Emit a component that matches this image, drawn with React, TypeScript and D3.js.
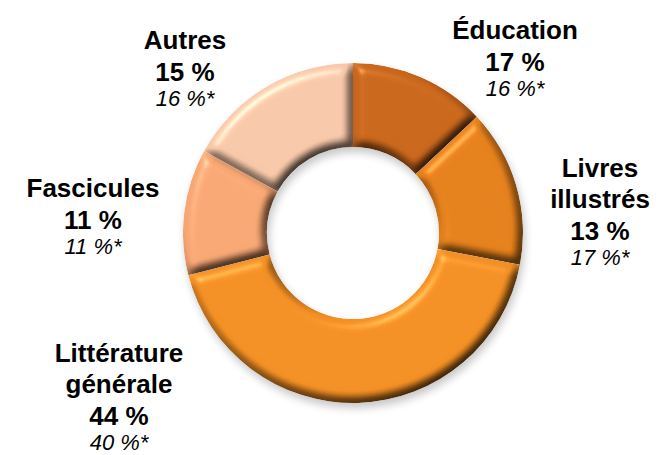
import React from "react";
import * as d3 from "d3";

const categories = ["Éducation", "Livres illustrés", "Littérature générale", "Fascicules", "Autres"];
const shares = [13, 15, 43, 12, 17];
const mainLabels = ["17 %", "13 %", "44 %", "11 %", "15 %"];
const refLabels = ["16 %*", "17 %*", "40 %*", "11 %*", "16 %*"];
const colors = ["#c8661c", "#e3801c", "#f28f24", "#f6a673", "#f6c6a8"];

const W = 660, H = 455;
const cx = 353, cy = 233, rOut = 170, rIn = 86;

type LabelSpec = { x: number; y: number; lines: string[] };
const labelPos: LabelSpec[] = [
  { x: 515, y: 39, lines: ["Éducation"] },
  { x: 600, y: 177, lines: ["Livres", "illustrés"] },
  { x: 119, y: 362, lines: ["Littérature", "générale"] },
  { x: 93, y: 197, lines: ["Fascicules"] },
  { x: 185, y: 49, lines: ["Autres"] },
];

export default function App() {
  const pie = d3.pie<number>().sort(null).value((d) => d).startAngle(0).endAngle(2 * Math.PI);
  const arcs = pie(shares);
  const arc = d3.arc<d3.PieArcDatum<number>>().innerRadius(rIn).outerRadius(rOut);
  return (
    <svg width={W} height={H} style={{ position: "absolute", left: 0, top: 0, background: "#fff" }}>
      <defs>
        <filter id="bevel" x="-10%" y="-10%" width="120%" height="120%" colorInterpolationFilters="sRGB">
          <feGaussianBlur in="SourceAlpha" stdDeviation="5.5" result="blur" />
          <feDiffuseLighting in="blur" surfaceScale="7" diffuseConstant="1.2" lightingColor="#ffffff" result="diff">
            <feDistantLight azimuth="235" elevation="60" />
          </feDiffuseLighting>
          <feComposite in="SourceGraphic" in2="diff" operator="arithmetic" k1="1" k2="0" k3="0" k4="0" result="lit" />
          <feSpecularLighting in="blur" surfaceScale="7" specularConstant="0.6" specularExponent="30" lightingColor="#ffffff" result="spec">
            <feDistantLight azimuth="235" elevation="40" />
          </feSpecularLighting>
          <feComposite in="lit" in2="spec" operator="arithmetic" k1="0" k2="1" k3="0.35" k4="0" result="both" />
          <feComposite in="both" in2="SourceAlpha" operator="in" />
        </filter>
        <filter id="shadow" x="-20%" y="-20%" width="140%" height="140%">
          <feGaussianBlur stdDeviation="4" />
        </filter>
      </defs>
      <g transform={`translate(${cx},${cy})`}>
        <path
          d={d3.arc()({ innerRadius: rIn, outerRadius: rOut, startAngle: 0, endAngle: 2 * Math.PI }) as string}
          transform="translate(2,5)"
          fill="#000"
          opacity={0.22}
          filter="url(#shadow)"
        />
        {arcs.map((a, i) => (
          <path key={i} d={arc(a) as string} fill={colors[i]} filter="url(#bevel)" />
        ))}
      </g>
      <g style={{ fontFamily: "Arial, 'Liberation Sans', Helvetica, sans-serif" }} textAnchor="middle" fill="#000">
        {labelPos.map((p, i) => {
          const n = p.lines.length;
          return (
            <g key={i}>
              {p.lines.map((t, j) => (
                <text key={j} x={p.x} y={p.y + j * 31} fontSize={26} fontWeight="bold">{t}</text>
              ))}
              <text x={p.x} y={p.y + n * 31 + 1} fontSize={26} fontWeight="bold">{mainLabels[i]}</text>
              <text x={p.x} y={p.y + n * 31 + 26} fontSize={22} fontStyle="italic">{refLabels[i]}</text>
            </g>
          );
        })}
      </g>
    </svg>
  );
}
